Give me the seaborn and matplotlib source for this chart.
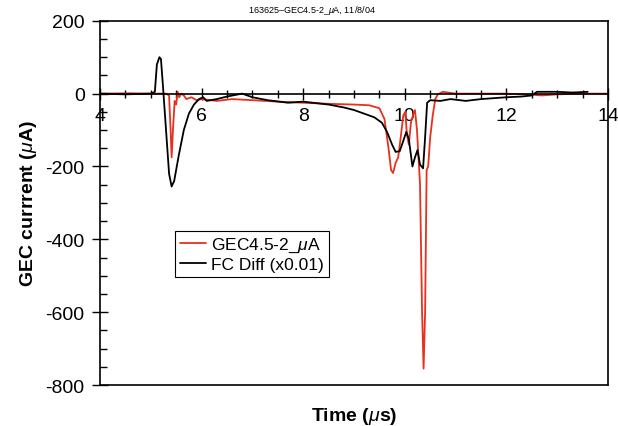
import numpy as np
import pandas as pd
import matplotlib
matplotlib.use("Agg")
import matplotlib.pyplot as plt
from matplotlib.ticker import MultipleLocator
import seaborn as sns

# GEC4.5-2 current (uA)
gec_t = [4.0, 4.6, 5.0, 5.3, 5.36, 5.39, 5.41, 5.44, 5.47, 5.5, 5.53, 5.56, 5.6, 5.65,
         5.7, 5.8, 5.9, 6.0, 6.3, 6.6, 7.0, 7.5, 8.0, 8.5, 9.0, 9.3, 9.5, 9.6, 9.68,
         9.73, 9.77, 9.82, 9.87, 9.92, 9.97, 10.01, 10.04, 10.08, 10.12, 10.16, 10.2,
         10.24, 10.3, 10.34, 10.37, 10.4, 10.43, 10.46, 10.5, 10.55, 10.6, 10.65, 10.75,
         11.0, 11.5, 12.0, 12.5, 12.7, 13.0, 13.5, 14.0]
gec_i = [0, 1, 0, 0, -5, -100, -175, -90, -20, -30, 5, -10, 0, -5,
         -15, -10, -18, -15, -20, -15, -18, -22, -25, -28, -30, -32, -40, -70, -150,
         -210, -218, -190, -175, -120, -60, -50, -110, -140, -80, -60, -45,
         -100, -250, -600, -755, -600, -210, -200, -120, -60, -15, -2, 5,
         0, 0, 0, -3, -5, -2, 0, 0]

# FC difference signal scaled by 0.01
fc_t = [4.0, 4.5, 5.0, 5.08, 5.12, 5.17, 5.2, 5.24, 5.3, 5.36, 5.41, 5.46, 5.55, 5.65,
        5.75, 5.85, 5.95, 6.03, 6.1, 6.3, 6.5, 6.8, 7.0, 7.3, 7.7, 8.0, 8.5, 8.8, 9.0,
        9.2, 9.4, 9.55, 9.65, 9.75, 9.82, 9.9, 9.97, 10.03, 10.08, 10.15, 10.2, 10.25,
        10.3, 10.36, 10.4, 10.44, 10.5, 10.7, 10.9, 11.2, 11.5, 11.8, 12.0, 12.3, 12.5,
        12.6, 13.0, 13.3, 13.6]
fc_i = [0, -2, 0, 5, 80, 100, 95, 20, -100, -220, -255, -240, -170, -100,
        -55, -30, -15, -10, -20, -15, -8, 0, -10, -18, -25, -22, -30, -38, -45,
        -55, -65, -80, -105, -140, -160, -158, -130, -105, -125, -200, -175, -155,
        -195, -205, -120, -25, -18, -20, -15, -20, -15, -12, -10, -8, -5,
        5, 5, 3, 5]

sns.set_theme(style="white")
plt.rcParams["font.family"] = ["Liberation Sans", "DejaVu Sans"]
plt.rcParams["mathtext.fontset"] = "custom"
plt.rcParams["mathtext.it"] = "Liberation Sans:italic"
plt.rcParams["mathtext.rm"] = "Liberation Sans"
plt.rcParams["axes.unicode_minus"] = False
for key in ["text.color", "axes.labelcolor", "xtick.color", "ytick.color"]:
    plt.rcParams[key] = "black"

fig = plt.figure(figsize=(6.18, 4.27), dpi=100)
ax = fig.add_axes([0.1618, 0.096, 0.822, 0.853])

sns.lineplot(x=gec_t, y=gec_i, ax=ax, color="#e8301c", lw=1.3, label="GEC4.5-2_$\\mu$A")
sns.lineplot(x=fc_t, y=fc_i, ax=ax, color="black", lw=1.3, label="FC Diff (x0.01)")

ax.set_xlim(4, 14)
ax.set_ylim(-800, 200)

for s in ax.spines.values():
    s.set_color("black")
    s.set_linewidth(1.2)
ax.spines["bottom"].set_position(("data", 0))
ax.plot([0, 1], [0, 0], transform=ax.transAxes, color="black", lw=1.2, clip_on=False)

ax.xaxis.set_major_locator(MultipleLocator(2))
ax.xaxis.set_minor_locator(MultipleLocator(0.5))
ax.yaxis.set_major_locator(MultipleLocator(200))
ax.yaxis.set_minor_locator(MultipleLocator(50))
ax.tick_params(axis="x", which="major", direction="inout", length=9, width=1, pad=5,
               labelsize=14, bottom=True)
ax.tick_params(axis="x", which="minor", direction="inout", length=6, width=1, bottom=True)
ax.tick_params(axis="y", which="major", direction="inout", length=12, width=1, pad=5,
               labelsize=14, left=True)
ax.tick_params(axis="y", which="minor", direction="in", length=5, width=1, left=True)

ax.set_xlabel("Time ($\\mu$s)", fontsize=14, fontweight="bold")
ax.set_ylabel("GEC currrent ($\\mu$A)", fontsize=14, fontweight="bold")
ax.xaxis.set_label_coords(0.5, -0.055)
ax.yaxis.set_label_coords(-0.12, 0.5)
ax.set_title("163625\u2013GEC4.5-2_$\\mu$A, 11/8/04", fontsize=6.5, x=0.417, pad=6)

leg = ax.legend(loc="upper left", bbox_to_anchor=(0.13, 0.447), fontsize=12.5,
                handlelength=1.5, handletextpad=0.3, borderpad=0.3, labelspacing=0.15,
                fancybox=False, framealpha=1, edgecolor="black")
leg.get_frame().set_linewidth(0.8)

fig.savefig("out.png", dpi=100)
